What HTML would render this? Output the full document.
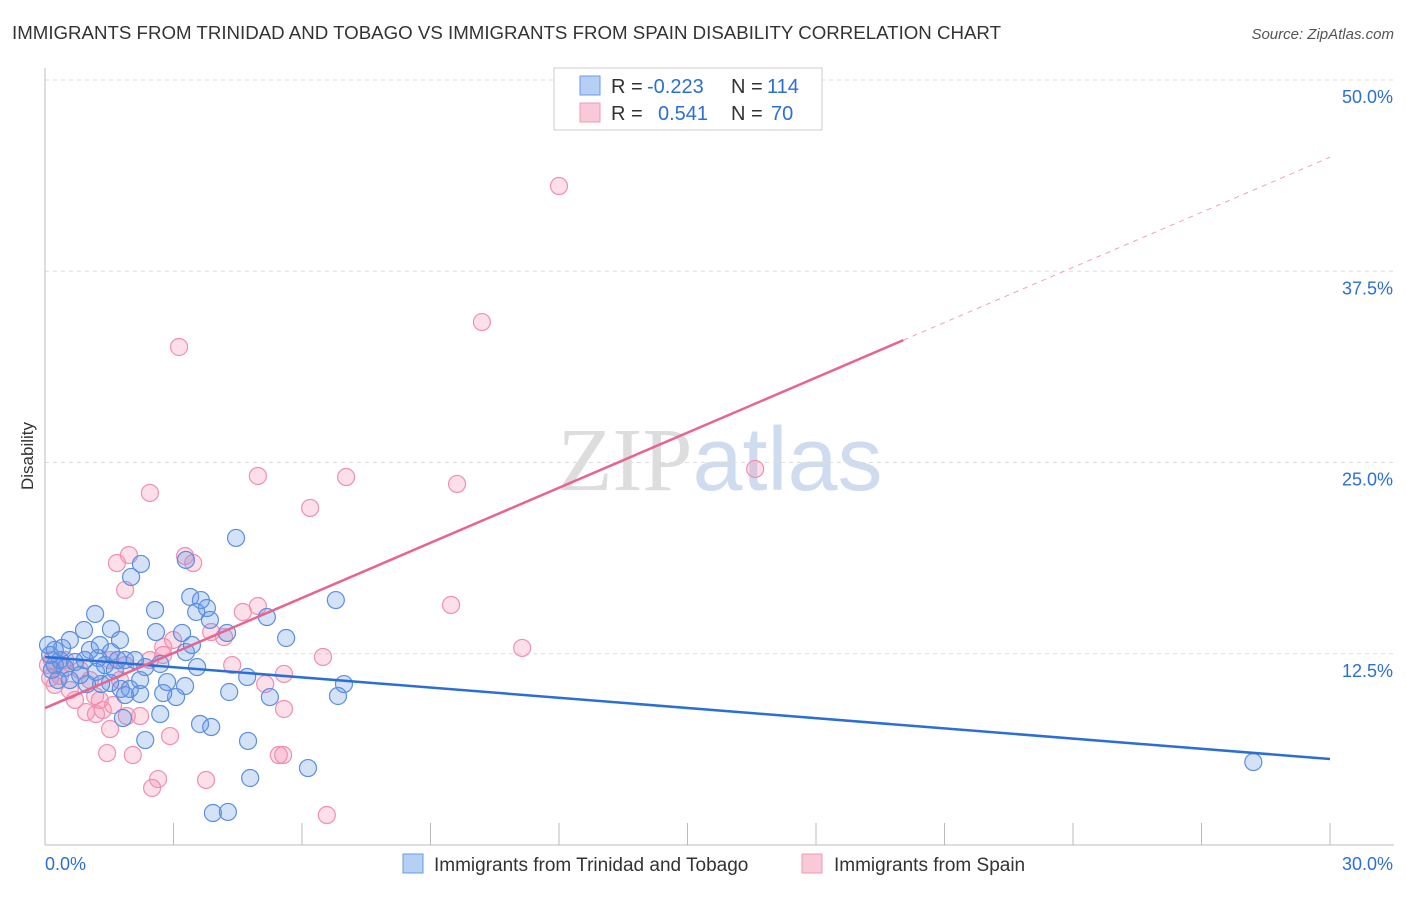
<!DOCTYPE html>
<html><head><meta charset="utf-8"><style>
body{margin:0;background:#fff;font-family:"Liberation Sans",sans-serif}
svg text{font-family:"Liberation Sans",sans-serif}
</style></head><body>
<svg id="chart" width="1406" height="892" xmlns="http://www.w3.org/2000/svg">
<text x="12" y="39" font-size="18" fill="#333" textLength="989" lengthAdjust="spacingAndGlyphs">IMMIGRANTS FROM TRINIDAD AND TOBAGO VS IMMIGRANTS FROM SPAIN DISABILITY CORRELATION CHART</text>
<text x="1394" y="39" font-size="15" fill="#555" text-anchor="end" font-style="italic">Source: ZipAtlas.com</text>
<text x="720" y="490" font-size="90" text-anchor="middle"><tspan fill="#ddd" font-family="Liberation Serif">ZIP</tspan><tspan fill="#cfdcf0">atlas</tspan></text>
<text transform="translate(33,456) rotate(-90)" font-size="17" fill="#333" text-anchor="middle">Disability</text>
<g id="grid"></g><g id="axes"></g><g id="pts"></g><g id="trend"></g>
<g>
<rect x="554" y="68" width="268" height="62" fill="#fff" stroke="#ccc"/>
<rect x="580" y="76" width="20" height="19" fill="#b6d0f5" stroke="#6a9ae6"/>
<rect x="580" y="103" width="20" height="19" fill="#f9c9d8" stroke="#f09ab6"/>
<text x="611" y="93" font-size="20" fill="#333">R =</text>
<text x="647" y="93" font-size="20" fill="#2b6fd6">-0.223</text>
<text x="731" y="93" font-size="20" fill="#333">N =</text>
<text x="767" y="93" font-size="20" fill="#2b6fd6">114</text>
<text x="611" y="120" font-size="20" fill="#333">R =</text>
<text x="658" y="120" font-size="20" fill="#2b6fd6">0.541</text>
<text x="731" y="120" font-size="20" fill="#333">N =</text>
<text x="771" y="120" font-size="20" fill="#2b6fd6">70</text>
</g>
<g>
<rect x="403" y="854" width="20" height="19" fill="#b6d0f5" stroke="#6a9ae6"/>
<text x="434" y="871" font-size="19" fill="#333">Immigrants from Trinidad and Tobago</text>
<rect x="802" y="854" width="20" height="19" fill="#f9c9d8" stroke="#f09ab6"/>
<text x="834" y="871" font-size="19" fill="#333">Immigrants from Spain</text>
</g>
</svg>
<script>
const xTicks=[0,3,6,9,12,15,18,21,24,27,30];
const yTicks=[12.5,25,37.5,50];
const yTickLabels=["12.5%","25.0%","37.5%","50.0%"];
const xEndLabels=["0.0%","30.0%"];
const blueX=[4.46,2.24,2.01,3.29,2.57,3.39,3.64,3.78,3.53,3.85,1.17,0.58,0.91,1.54,2.59,3.20,4.25,5.63,6.79,5.18,1.54,1.87,1.24,2.34,2.69,3.29,3.43,3.55,2.85,3.27,3.06,2.76,2.22,1.77,1.98,1.52,1.31,0.98,1.19,4.30,4.72,5.25,6.98,6.84,2.69,1.82,2.34,3.62,3.88,4.74,4.79,6.14,3.92,4.27,28.21,0.35,0.23,0.47,0.70,0.12,0.16,0.82,1.05,1.40,1.63,1.75,2.10,0.58,0.40,0.30,0.07,0.23,0.93,1.28,2.22,1.87,1.70];
const blueY=[20.07,18.37,17.52,18.63,15.36,16.21,16.01,15.49,15.23,14.71,15.10,13.40,14.05,14.12,13.92,13.86,13.86,13.53,16.01,14.90,12.61,12.09,12.22,11.63,11.83,12.61,13.07,11.63,10.65,10.39,9.67,9.93,9.87,10.20,10.20,10.59,10.52,10.52,11.31,10.00,10.98,9.67,10.52,9.74,8.56,8.30,6.86,7.91,7.71,6.80,4.38,5.03,2.09,2.16,5.42,12.09,11.76,11.57,11.96,12.42,11.44,11.11,12.75,11.76,11.44,13.40,12.09,10.78,12.88,10.78,13.07,12.75,12.09,13.07,10.78,9.80,12.09];
const pinkX=[12.00,10.20,3.13,16.58,4.97,7.03,9.62,2.45,6.19,1.96,3.27,3.46,1.68,1.87,9.48,4.97,4.62,3.88,2.99,2.76,4.18,6.49,11.14,5.58,4.37,5.14,5.58,1.17,0.96,1.19,1.35,1.59,2.22,1.91,1.52,1.45,2.05,2.92,2.64,2.50,3.76,5.46,6.58,0.35,0.12,0.58,0.82,0.47,0.23,1.28,1.75,1.05,0.70,2.45,2.76,1.52,1.87,0.07,0.16,0.40,5.56];
const pinkY=[43.07,34.18,32.55,24.58,24.12,24.05,23.60,23.01,22.03,18.95,18.89,18.43,18.43,16.67,15.69,15.62,15.23,13.92,13.40,12.94,13.59,12.29,12.88,11.18,11.76,10.52,8.89,9.74,8.69,8.56,8.82,9.15,8.43,8.43,7.58,6.01,5.88,7.12,4.31,3.73,4.25,5.88,1.96,11.05,10.92,10.13,11.44,12.09,10.46,9.48,10.78,10.78,9.48,12.09,12.42,12.09,11.76,11.76,12.09,11.76,5.88];
const blueTrend=[12.29,-0.2223];
const pinkTrend=[8.95,1.2];
const pinkSolidEnd=20.04;
const X=v=>45+v/30*1285, Y=v=>845-v/12.5*191.25;
const NS="http://www.w3.org/2000/svg";
function mk(t,a,p){const e=document.createElementNS(NS,t);for(const k in a)e.setAttribute(k,a[k]);document.getElementById(p).appendChild(e);return e;}
yTicks.forEach((v,i)=>{
 const g=mk('line',{x1:45,x2:1394,y1:Y(v),y2:Y(v),stroke:'#ddd','stroke-dasharray':'4,4'},'grid');
 
 
 const t=mk('text',{x:1393,y:Y(v)+23,'font-size':18,fill:'#2b6fd6','text-anchor':'end'},'axes');t.textContent=yTickLabels[i];
 
 
});
const ax=mk('line',{x1:45,x2:45,y1:68,y2:845,stroke:'#bbb'},'axes');


const bx=mk('line',{x1:45,x2:1394,y1:845,y2:845,stroke:'#bbb'},'axes');


xTicks.forEach(v=>{const l=mk('line',{x1:X(v),x2:X(v),y1:823,y2:845,stroke:'#bbb'},'axes');
 
 });
[[0,45,'start'],[1,1393,'end']].forEach(([i,x,a])=>{const t=mk('text',{x:x,y:870,'font-size':18,fill:'#2b6fd6','text-anchor':a},'axes');t.textContent=xEndLabels[i];
 
 });
pinkX.forEach((v,i)=>{const c=mk('circle',{cx:X(v),cy:Y(pinkY[i]),r:8.5,fill:'rgba(245,150,182,0.3)',stroke:'#f08fb0','stroke-width':1.2},'pts');
 
 });
blueX.forEach((v,i)=>{const c=mk('circle',{cx:X(v),cy:Y(blueY[i]),r:8.5,fill:'rgba(100,150,230,0.28)',stroke:'#5b8ee0','stroke-width':1.2},'pts');
 
 });
const bl=mk('line',{x1:X(0),y1:Y(blueTrend[0]),x2:X(30),y2:Y(blueTrend[0]+blueTrend[1]*30),stroke:'#2b6fd6','stroke-width':2.5},'trend');


const pl=mk('line',{x1:X(0),y1:Y(pinkTrend[0]),x2:X(pinkSolidEnd),y2:Y(pinkTrend[0]+pinkTrend[1]*pinkSolidEnd),stroke:'#e8648f','stroke-width':2.5},'trend');


const pd=mk('line',{x1:X(pinkSolidEnd),y1:Y(pinkTrend[0]+pinkTrend[1]*pinkSolidEnd),x2:X(30),y2:Y(pinkTrend[0]+pinkTrend[1]*30),stroke:'#f0a0ba','stroke-width':1,'stroke-dasharray':'5,5'},'trend');


</script>
</body></html>
